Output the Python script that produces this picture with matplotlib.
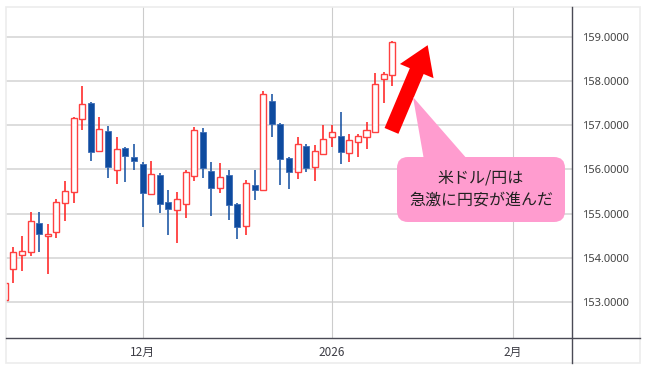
"""
USD/JPY daily candlestick chart with a callout that the yen weakened sharply.
Saves the figure as out.png (646x370).
"""
import matplotlib
matplotlib.use('Agg')
import matplotlib.pyplot as plt
from matplotlib.patches import FancyBboxPatch, Polygon, Rectangle
from matplotlib.lines import Line2D
from matplotlib.transforms import IdentityTransform

# Daily candles (business days, index based)
opens = [153.05, 153.75, 154.06, 154.12, 154.78, 154.49, 154.58, 155.24, 155.48, 157.13,
         157.51, 156.42, 156.87, 155.99, 156.49, 156.29, 156.12, 155.45, 155.87, 155.26,
         155.08, 155.22, 155.86, 156.84, 155.96, 155.57, 155.87, 155.22, 154.71, 155.64,
         155.53, 157.55, 157.03, 156.26, 155.93, 156.53, 156.06, 156.35, 156.73, 156.76,
         156.36, 156.61, 156.74, 156.84, 158.05, 158.14]
highs = [153.45, 154.25, 154.49, 155.04, 155.03, 154.76, 155.32, 155.74, 157.18, 157.89,
         157.53, 157.18, 156.98, 156.73, 156.50, 156.57, 156.17, 156.19, 155.91, 155.53,
         155.49, 155.99, 156.96, 156.93, 156.16, 156.14, 155.99, 155.23, 155.76, 155.99,
         157.77, 157.71, 157.06, 156.29, 156.73, 156.58, 156.55, 157.00, 157.00, 157.30,
         156.80, 156.80, 157.07, 158.19, 158.20, 158.90]
lows = [152.95, 153.42, 153.69, 154.05, 154.14, 153.63, 154.44, 154.83, 155.23, 156.89,
        156.20, 156.40, 155.81, 155.66, 155.72, 155.99, 154.69, 155.44, 155.01, 154.52,
        154.34, 154.91, 155.74, 155.81, 154.95, 155.46, 154.86, 154.42, 154.52, 155.31,
        155.52, 156.73, 155.65, 155.56, 155.78, 155.93, 155.74, 156.34, 156.51, 156.12,
        156.16, 156.29, 156.47, 156.82, 157.51, 157.89]
closes = [153.42, 154.13, 154.16, 154.83, 154.53, 154.54, 155.26, 155.50, 157.17, 157.47,
          156.39, 156.91, 156.05, 156.46, 156.30, 156.18, 155.47, 155.89, 155.21, 155.10,
          155.34, 155.93, 156.88, 156.02, 155.57, 155.83, 155.19, 154.70, 155.69, 155.54,
          157.71, 157.03, 156.23, 155.95, 156.57, 156.04, 156.42, 156.68, 156.84, 156.39,
          156.66, 156.75, 156.88, 157.93, 158.16, 158.88]

# month labels sit on the first trading day of the month
month_ticks = [16, 38, 59]
month_labels = ['12月', '2026', '2月']
price_ticks = [153, 154, 155, 156, 157, 158, 159]

callout_text = '米ドル/円は\n急激に円安が進んだ'

UP_EDGE = '#ff4040'
UP_WICK = '#ff1a1a'
DOWN = '#0e4b9f'
W, H = 646, 370


def px(x, y):
    """image pixel (top-left origin) -> display pixel"""
    return x, H - y


def draw_candles(ax):
    width = 0.70
    for i, (o, h, l, c) in enumerate(zip(opens, highs, lows, closes)):
        up = c >= o
        wick_col = UP_WICK if up else DOWN
        ax.vlines(i, l, h, color=wick_col, linewidth=1.1, zorder=2)
        body = max(abs(c - o), 0.03)
        if up:
            ax.bar(i, body, bottom=o, width=width, facecolor='white',
                   edgecolor=UP_EDGE, linewidth=1.0, zorder=3)
        else:
            ax.bar(i, body, bottom=c, width=width, facecolor=DOWN,
                   edgecolor='#3d6db5', linewidth=0.6, zorder=3)


def main():
    plt.rcParams['font.family'] = ['Noto Sans CJK JP', 'DejaVu Sans']
    fig = plt.figure(figsize=(W / 100, H / 100), dpi=100)
    fig.patch.set_facecolor('white')

    left, right, top, bottom = 6, 572.3, 7, 337.7
    ax = fig.add_axes([left / W, (H - bottom) / H, (right - left) / W, (bottom - top) / H])

    draw_candles(ax)

    ax.set_xlim(0.15, 65.89)
    ax.set_ylim(152.19, 159.674)

    ax.set_yticks(price_ticks)
    ax.set_yticklabels([f'{p:.4f}' for p in price_ticks], family='Noto Sans',
                       fontsize=8, color='#444444')
    ax.yaxis.tick_right()
    ax.set_xticks(month_ticks)
    ax.set_xticklabels(month_labels, fontsize=8.5, color='#3c3c44')
    ax.tick_params(axis='y', length=0, pad=7)
    ax.tick_params(axis='x', length=0, pad=6)

    for p in price_ticks:
        ax.axhline(p, color='#dadada', linewidth=1.3, zorder=0)
    for t in month_ticks:
        ax.axvline(t, color='#cccccc', linewidth=0.8, zorder=0)

    for s in ['top', 'left', 'right', 'bottom']:
        ax.spines[s].set_visible(False)

    # outer frame and the dark axis lines
    fig.add_artist(Rectangle(px(6, 363), 634, 356, transform=IdentityTransform(),
                             fill=False, edgecolor='#ececec', linewidth=1.2))
    x0, y0 = px(6, bottom)
    x1, _ = px(640, bottom)
    fig.add_artist(Line2D([x0, x1], [y0, y0], transform=IdentityTransform(),
                          color='#4a4a55', linewidth=1.0))
    xa, ya = px(right, top)
    _, yb = px(right, 363)
    fig.add_artist(Line2D([xa, xa], [ya, yb], transform=IdentityTransform(),
                          color='#4a4a55', linewidth=1.0))

    # red arrow
    ax.annotate('', xy=(49.1, 158.81), xytext=(44.9, 156.87),
                arrowprops=dict(arrowstyle='simple,tail_width=0.72,head_width=1.75,head_length=1.35',
                                mutation_scale=15, color='#ff0000', linewidth=0,
                                shrinkA=0, shrinkB=0),
                zorder=5)

    # speech bubble
    pink = '#ff9ccf'
    fig.add_artist(Polygon([px(424, 160), px(468, 160), px(413, 97)], closed=True,
                           transform=IdentityTransform(), facecolor=pink, edgecolor='none'))
    bx, by = px(397, 222)
    fig.add_artist(FancyBboxPatch((bx, by), 168, 65, boxstyle='round,pad=0,rounding_size=11',
                                  transform=IdentityTransform(), facecolor=pink, edgecolor='none'))
    tx, ty = px(481, 189)
    fig.text(tx / W, ty / H, callout_text, ha='center', va='center', fontsize=11.5,
             color='#222222', linespacing=1.45)

    fig.savefig('out.png', dpi=100)


if __name__ == '__main__':
    main()
